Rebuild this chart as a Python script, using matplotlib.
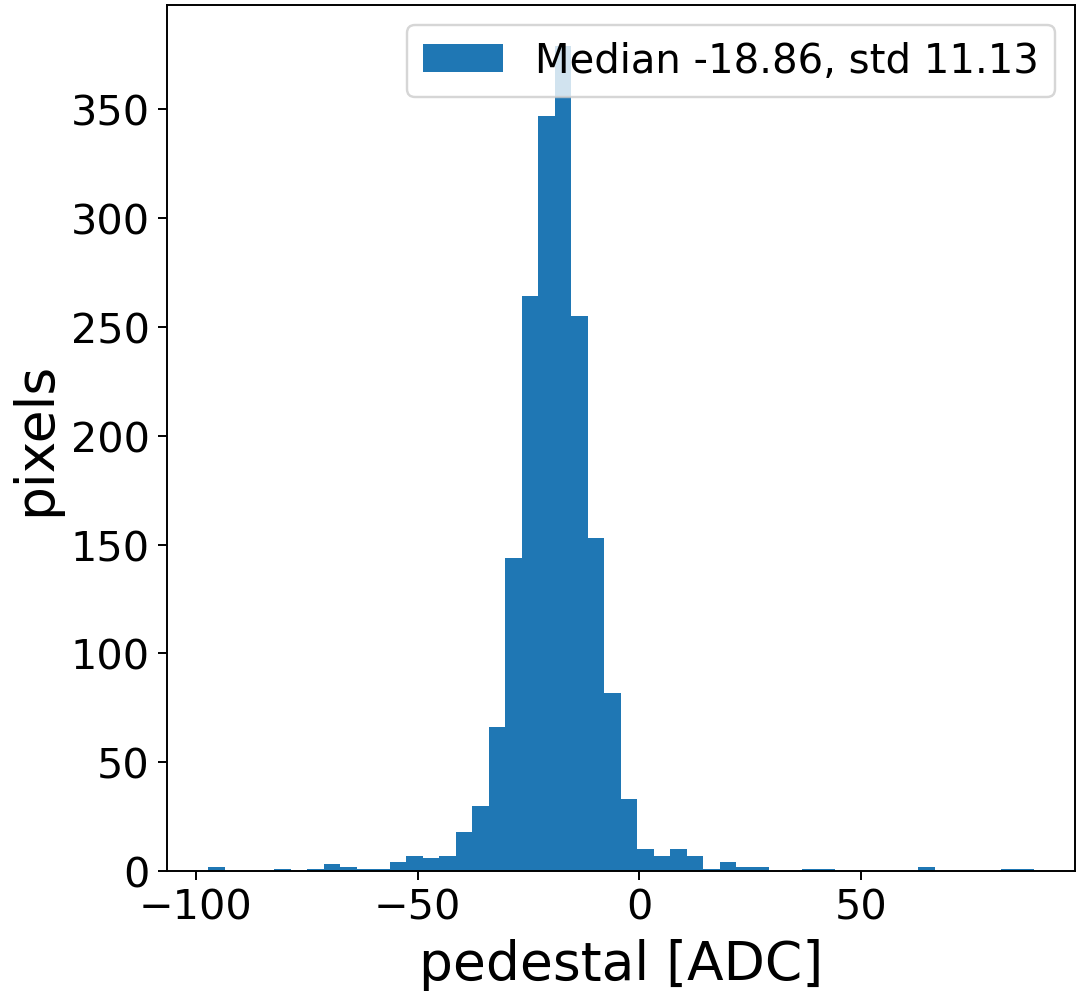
import numpy as np
import matplotlib
matplotlib.use("Agg")
import matplotlib.pyplot as plt

# pedestal histogram, 50 bins
ped_min = -97.2
ped_max = 88.9
n_bins = 50
counts = [2, 0, 0, 0, 1, 0, 1, 3, 2, 1,
          1, 4, 7, 6, 7, 18, 30, 66, 144, 264,
          347, 379, 255, 153, 82, 33, 10, 7, 10, 7,
          1, 4, 2, 2, 0, 0, 1, 1, 0, 0,
          0, 0, 0, 2, 0, 0, 0, 0, 1, 1]
median = -18.86
std = 11.13

edges = np.linspace(ped_min, ped_max, n_bins + 1)

fig = plt.figure(figsize=(1077 / 175, 992 / 175), dpi=175)
ax = fig.add_axes([0.155, 0.121, 0.998 - 0.155, 0.994 - 0.121])

ax.hist(edges[:-1], bins=edges, weights=counts,
        label="Median %.2f, std %.2f" % (median, std))

ax.set_xlabel("pedestal [ADC]", fontsize=22)
ax.set_ylabel("pixels", fontsize=22)
ax.tick_params(axis="both", which="major", labelsize=17)
ax.set_xticks([-100, -50, 0, 50])
ax.legend(loc="upper right", fontsize=16.5)

fig.savefig("out.png", dpi=175)
